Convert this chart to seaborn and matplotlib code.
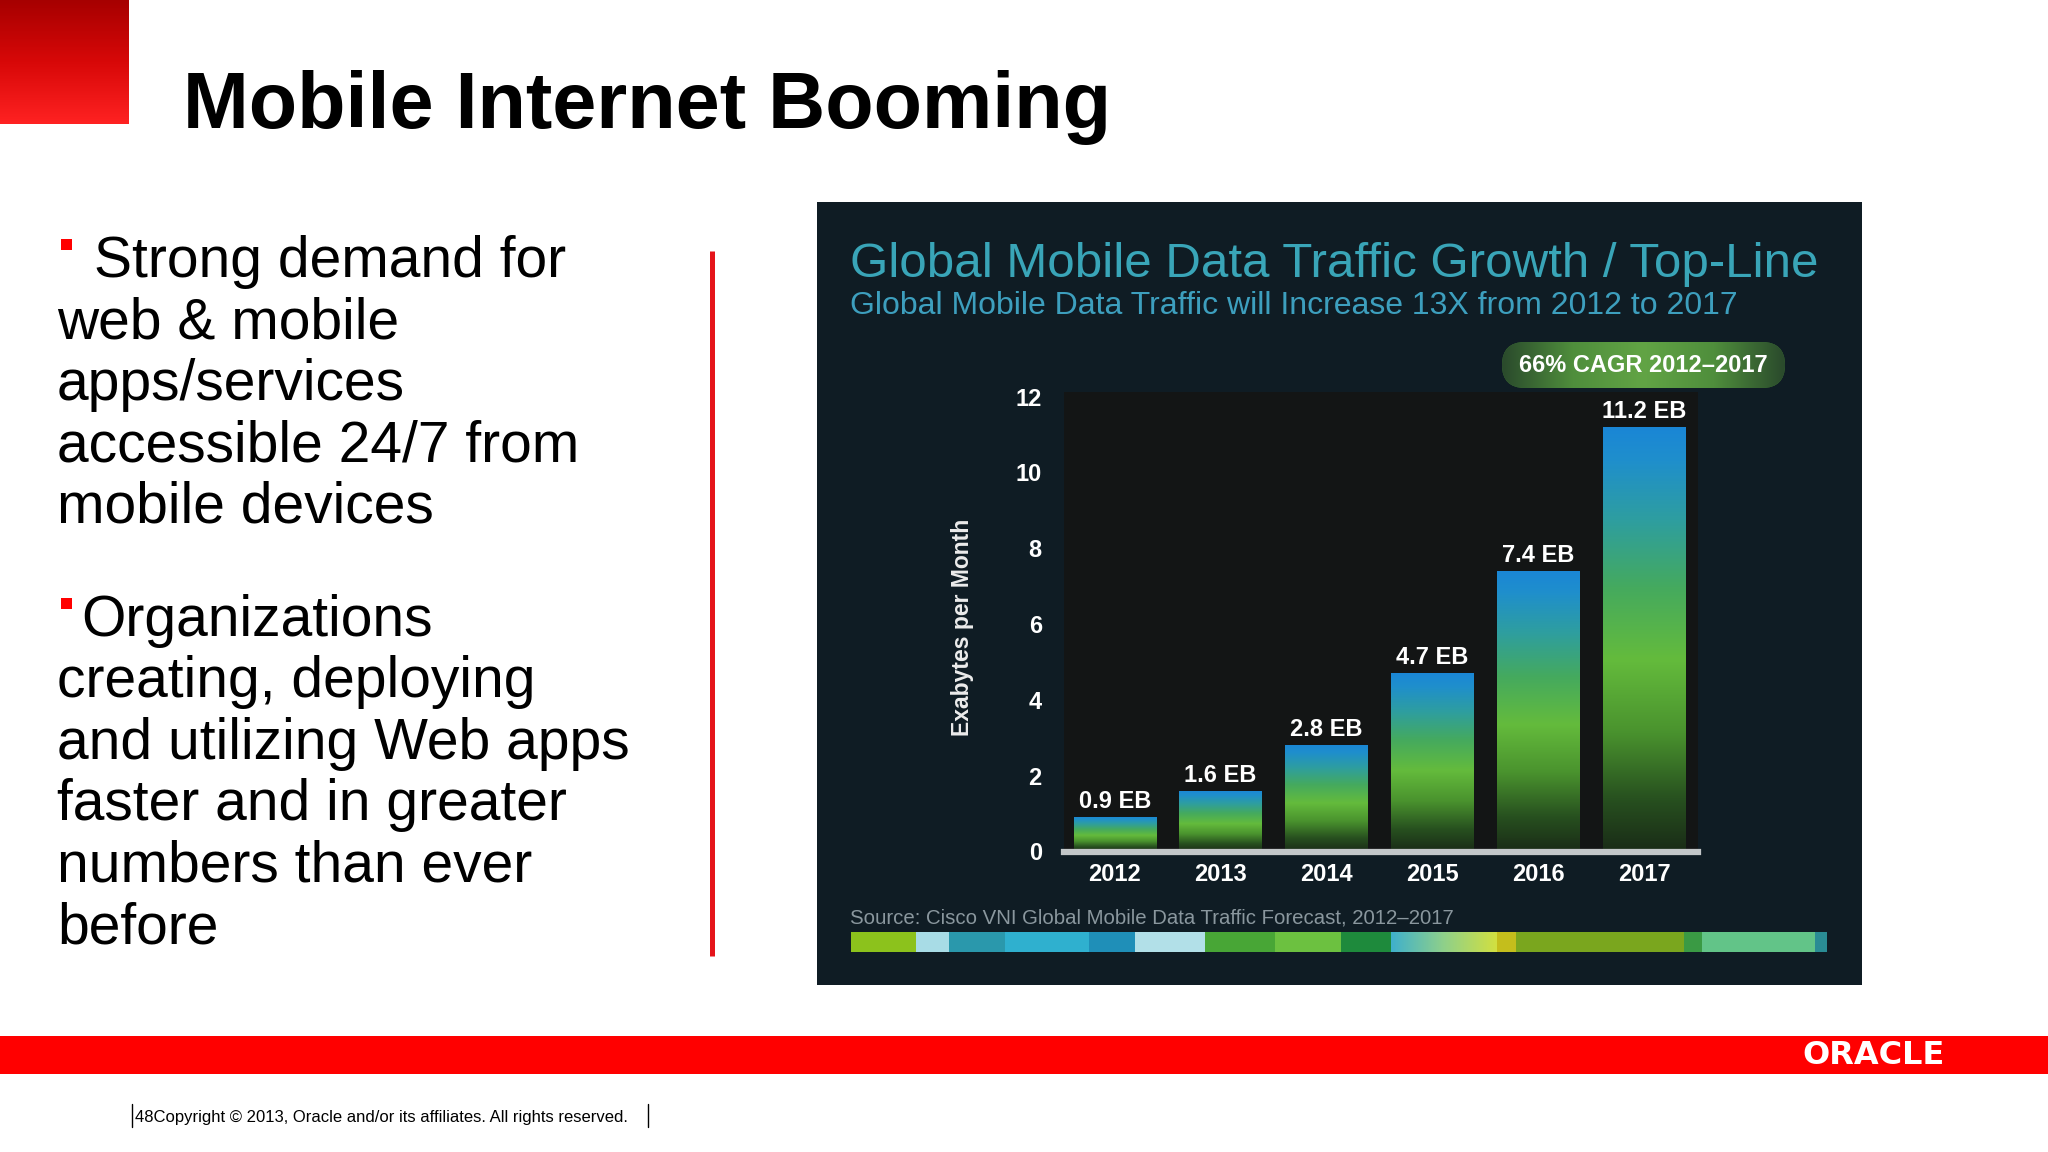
import numpy as np
import matplotlib
matplotlib.use('Agg')
import matplotlib.pyplot as plt
import matplotlib.patches as mpatches
from matplotlib.colors import LinearSegmentedColormap
import seaborn as sns

# DATA ------------
YEARS = ['2012', '2013', '2014', '2015', '2016', '2017']
TRAFFIC_EB = [0.9, 1.6, 2.8, 4.7, 7.4, 11.2]
VALUE_LABELS = ['0.9 EB', '1.6 EB', '2.8 EB', '4.7 EB', '7.4 EB', '11.2 EB']
Y_TICKS = [0, 2, 4, 6, 8, 10, 12]

BULLET_1 = ['Strong demand for', 'web & mobile', 'apps/services',
            'accessible 24/7 from', 'mobile devices']
BULLET_2 = ['Organizations', 'creating, deploying', 'and utilizing Web apps',
            'faster and in greater', 'numbers than ever', 'before']

# decorative colour strip under the source line (right edge x, colour)
STRIP = [(916, '#8cc21c'), (949, '#a8dce6'), (1005, '#2a98ac'), (1089, '#2fb0cf'),
         (1135, '#1f8fb8'), (1205, '#b2e0e8'), (1275, '#48a636'), (1341, '#6cc140'),
         (1391, '#1e8a3c'), (1497, None), (1516, '#c4be1c'), (1684, '#7aa61e'),
         (1702, '#3a9a44'), (1815, '#62c488'), (1827, '#2a8c94')]

# STYLE ------------
sns.set_theme(style='white')
plt.rcParams['font.family'] = ['Liberation Sans', 'DejaVu Sans']
NARROW = ['Liberation Sans Narrow', 'Liberation Sans', 'DejaVu Sans']

W, H = 2048, 1152
PANEL = '#0f1c24'
RED = '#ff0000'

fig = plt.figure(figsize=(20.48, 11.52), dpi=100)
fig.patch.set_facecolor('white')

# background axes in pixel coordinates for the slide decoration
bg = fig.add_axes([0, 0, 1, 1], zorder=0)
bg.axis('off')

# red square top-left
grad_v = np.linspace(0, 1, 256).reshape(-1, 1)
grad_h = np.linspace(0, 1, 256).reshape(1, -1)
red_cmap = LinearSegmentedColormap.from_list('redsq', ['#a60000', '#d80808', '#ff2222'])
bg.imshow(grad_v, extent=(0, 129, 124, 0), cmap=red_cmap, aspect='auto', zorder=2)

# slide title
bg.text(183, 128, 'Mobile Internet Booming', fontsize=57, fontweight='bold',
        color='black', va='baseline', ha='left')

# bullets
for y0, x_first, lines in [(277, 94, BULLET_1), (636, 81, BULLET_2)]:
    for i, line in enumerate(lines):
        bg.text(x_first if i == 0 else 57, y0 + i * 61.4, line, fontsize=41,
                color='black', va='baseline', ha='left')
for ytop in [239, 598]:
    bg.add_patch(mpatches.Rectangle((61, ytop), 11, 11, color=RED, lw=0))

# vertical red divider
bg.plot([712, 712], [251, 956], color='#e5141a', lw=3.6, solid_capstyle='butt')

# dark chart panel
bg.add_patch(mpatches.Rectangle((817, 202), 1045, 783, color=PANEL, lw=0))
bg.text(850, 277, 'Global Mobile Data Traffic Growth / Top-Line', fontsize=35.5,
        family=NARROW, color='#39a5b8', va='baseline', ha='left')
bg.text(850, 314, 'Global Mobile Data Traffic will Increase 13X from 2012 to 2017',
        fontsize=23, family=NARROW, color='#3d9fbe', va='baseline', ha='left')

# CAGR pill
pill = mpatches.FancyBboxPatch((1502, 342), 283, 46,
                               boxstyle='round,pad=0,rounding_size=23',
                               facecolor='#3f7a34', lw=0)
bg.add_patch(pill)
pill_cmap = LinearSegmentedColormap.from_list(
    'pill', ['#2a4a2c', '#4f8e3c', '#62a445', '#4f8e3c', '#2a4a2c'])
im = bg.imshow(grad_h, extent=(1502, 1785, 388, 342), cmap=pill_cmap,
               aspect='auto', zorder=2)
im.set_clip_path(pill)
bg.text(1643, 366, '66% CAGR 2012\u20132017', fontsize=17, fontweight='bold',
        family=NARROW, color='white', va='center', ha='center', zorder=3)

# y axis title
bg.text(962, 627, 'Exabytes per Month', fontsize=16.5, fontweight='bold',
        color='#ececec', rotation=90, va='center', ha='center')

# source and colour strip
bg.text(850, 923, 'Source: Cisco VNI Global Mobile Data Traffic Forecast, 2012\u20132017',
        fontsize=14.7, family=NARROW, color='#8a979e', va='baseline', ha='left')
left = 851
for right, col in STRIP:
    if col is None:
        cm = LinearSegmentedColormap.from_list('seg', ['#3fb0cc', '#8fd08a', '#d2e040'])
        bg.imshow(grad_h, extent=(left, right, 952, 932), cmap=cm, aspect='auto', zorder=2)
    else:
        bg.add_patch(mpatches.Rectangle((left, 932), right - left, 20, color=col,
                                        lw=0, zorder=2))
    left = right

# red footer band and logo
bg.add_patch(mpatches.Rectangle((0, 1036), W, 38, color=RED, lw=0))
bg.text(1873, 1056, 'ORACLE', fontsize=23, family=['DejaVu Sans'], fontweight='bold',
        color='white', va='center', ha='center')

# copyright
bg.text(135, 1122, '48Copyright \u00a9 2013, Oracle and/or its affiliates. All rights reserved.',
        fontsize=12, family=NARROW, color='black', va='baseline', ha='left')
bg.plot([132, 132], [1104, 1127], color='black', lw=1)
bg.plot([648, 648], [1104, 1127], color='black', lw=1)

bg.set_xlim(0, W)
bg.set_ylim(H, 0)

# CHART ------------
ax = fig.add_axes([1064 / W, 1 - 851.5 / H, 634 / W, (851.5 - 392) / H], zorder=2)
ax.set_facecolor('#131515')

sns.barplot(x=YEARS, y=TRAFFIC_EB, ax=ax, width=0.78, color='#2a9a6a',
            saturation=1, linewidth=0, errorbar=None)

bar_cmap = LinearSegmentedColormap.from_list(
    'bars', [(0.0, '#1a86d6'), (0.08, '#1f8fcc'), (0.22, '#2e9ea0'),
             (0.38, '#45aa5e'), (0.55, '#64bb3c'), (0.72, '#4a932e'),
             (0.88, '#27501f'), (1.0, '#1a2c17')])
for patch in ax.patches:
    x0, w, h = patch.get_x(), patch.get_width(), patch.get_height()
    gim = ax.imshow(grad_v, extent=(x0, x0 + w, 0, h), cmap=bar_cmap,
                    aspect='auto', origin='upper', zorder=patch.get_zorder() + 0.1)
    gim.set_clip_path(patch)

ax.bar_label(ax.containers[0], labels=VALUE_LABELS, padding=3, color='white',
             fontsize=17, fontweight='bold', family=NARROW)

ax.set_yticks(Y_TICKS)
ax.set_xlabel('')
ax.set_ylabel('')
for side in ['top', 'right', 'left']:
    ax.spines[side].set_visible(False)
ax.spines['bottom'].set_color('#c3c7c9')
ax.spines['bottom'].set_linewidth(4.5)
ax.tick_params(axis='both', length=0, colors='white')
ax.tick_params(axis='y', pad=16)
ax.tick_params(axis='x', pad=8)
for lab in ax.get_xticklabels() + ax.get_yticklabels():
    lab.set_fontfamily(NARROW)
    lab.set_fontweight('bold')
    lab.set_fontsize(17)
    lab.set_color('white')

ax.set_xlim(-0.48, 5.51)
ax.set_ylim(0, 12.12)

fig.savefig('out.png', dpi=100, facecolor='white')
